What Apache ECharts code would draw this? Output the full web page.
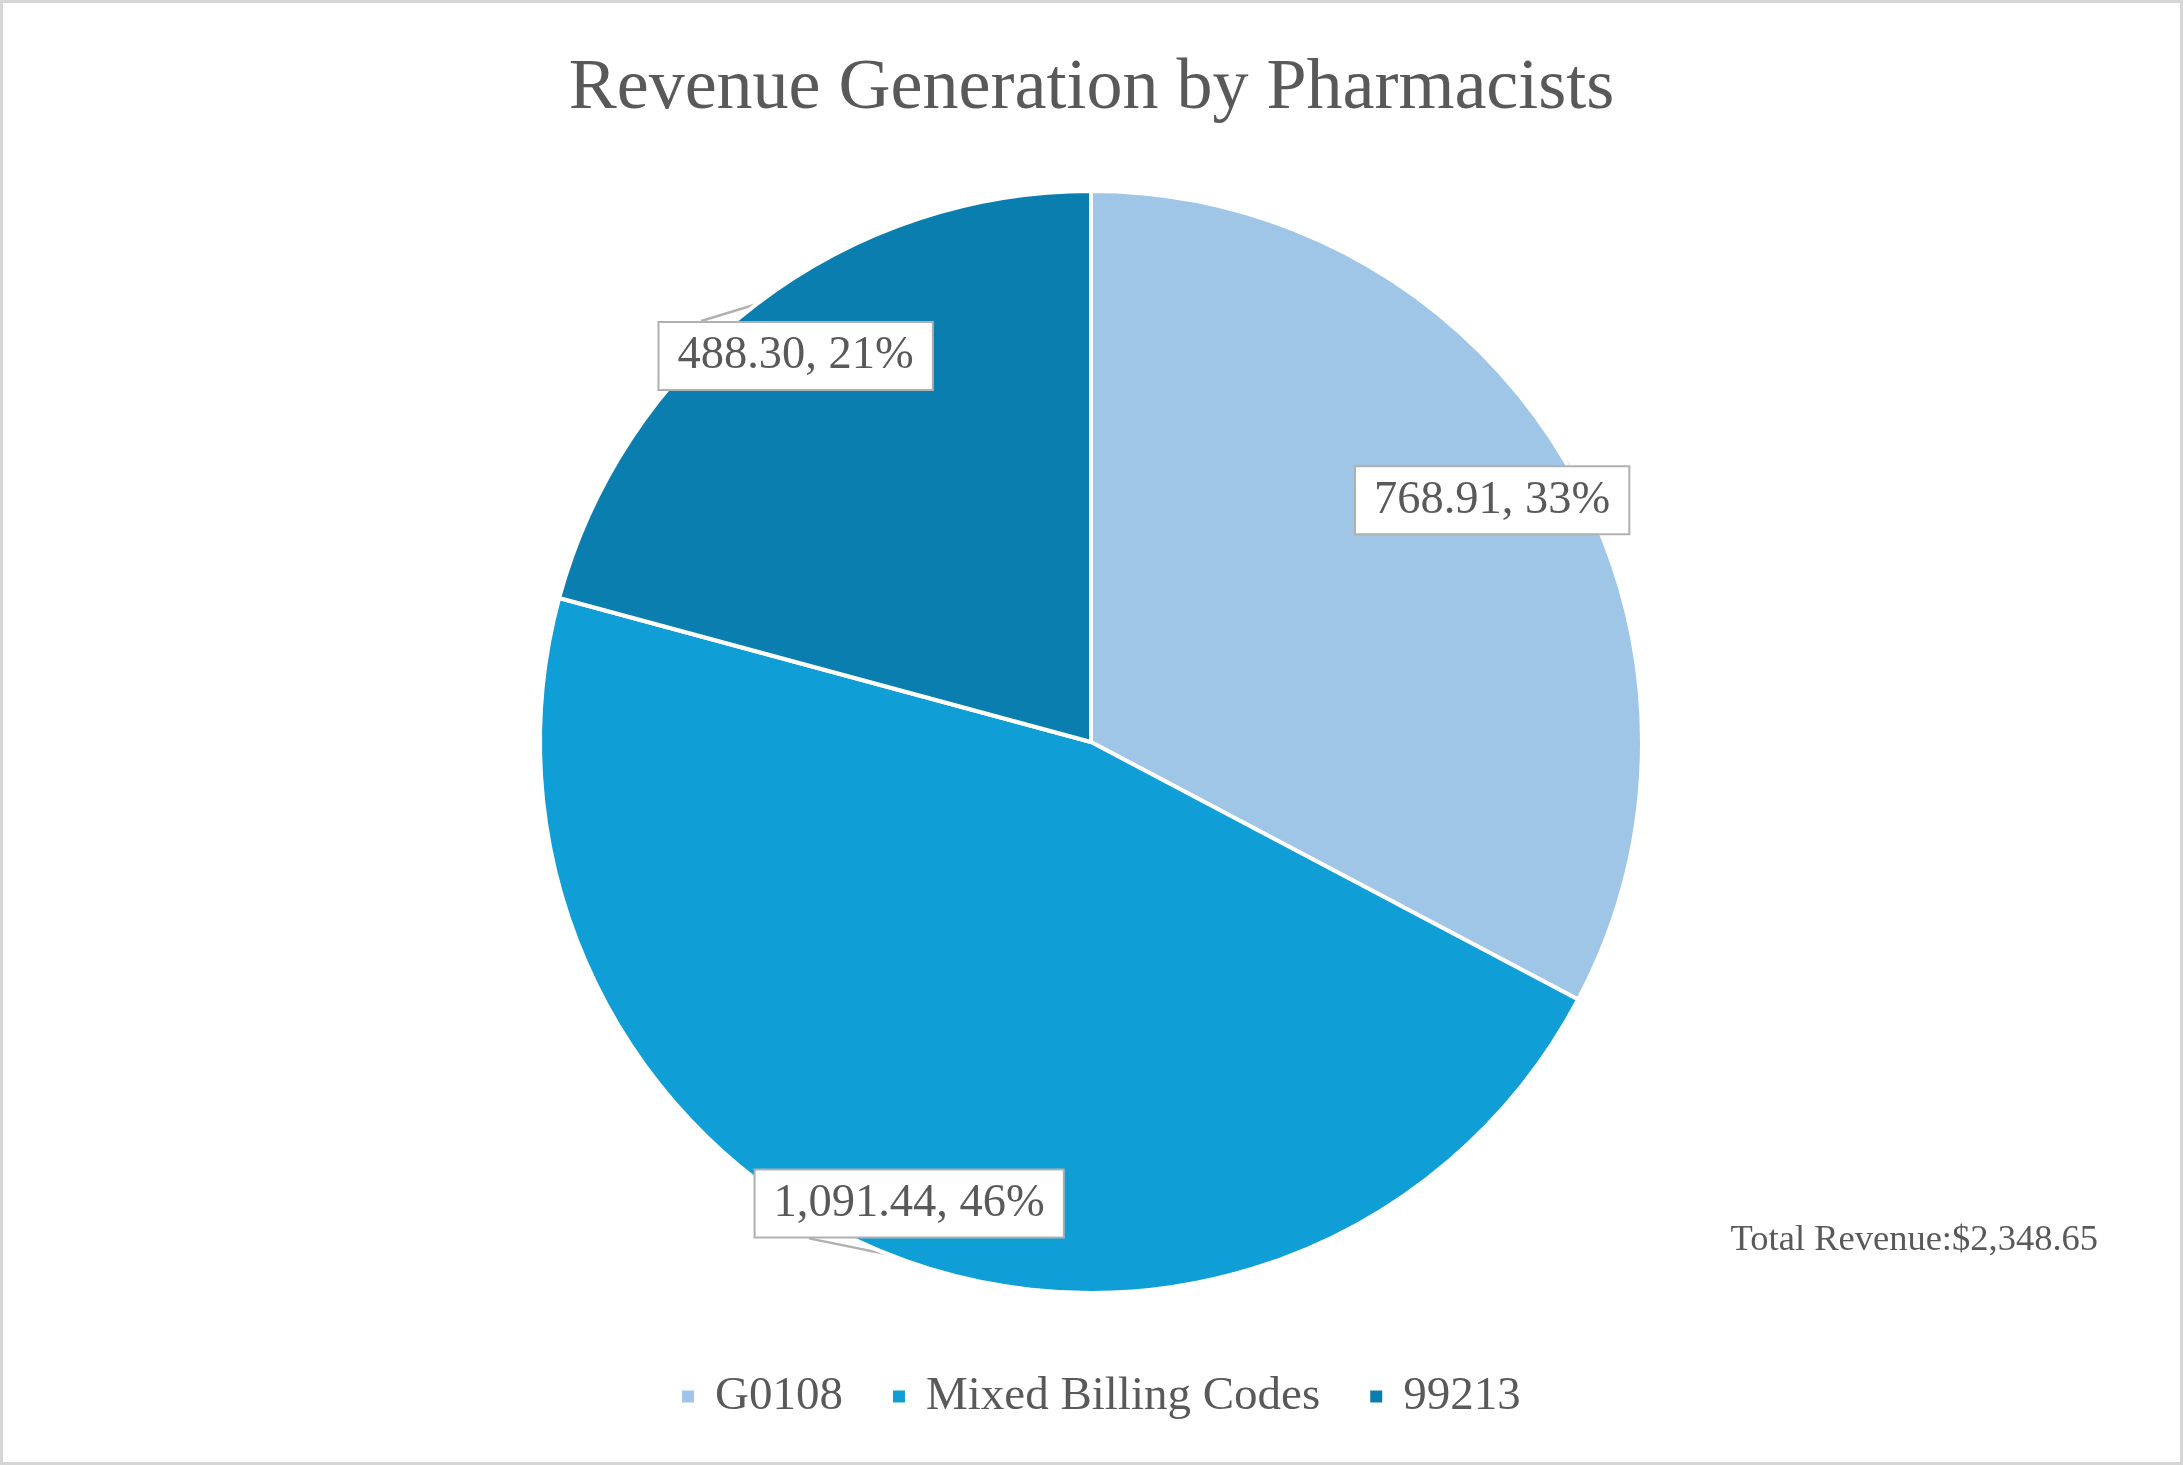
<!DOCTYPE html>
<html>
<head>
<meta charset="utf-8">
<script src="https://cdn.jsdelivr.net/npm/echarts@6/dist/echarts.min.js"></script>
<style>
  html, body { margin: 0; padding: 0; background: #ffffff; }
  #chart { width: 2183px; height: 1465px; box-sizing: border-box; border: 3px solid #d6d6d6; }
</style>
</head>
<body>
<div id="chart"></div>
<script>
// Revenue by billing code (USD)
const categories = ['G0108', 'Mixed Billing Codes', '99213'];
const revenue = [768.91, 1091.44, 488.30];
const sliceColors = ['#9fc5e7', '#0f9ed6', '#0a7eaf'];

const titleText = 'Revenue Generation by Pharmacists';
const total = revenue.reduce((a, b) => a + b, 0);
const fmtMoney = v => v.toLocaleString('en-US', { minimumFractionDigits: 2, maximumFractionDigits: 2 });

const PIE_CENTER = [1088, 739];
const PIE_RADIUS = 551;
// How far out along each slice's mid-angle the callout box sits (fraction of radius)
const labelRadiusFraction = [0.85, 0.90, 0.882];
const textColor = '#595959';
const calloutBorder = '#b0b0b0';
const serif = '"Liberation Serif", "DejaVu Serif", serif';

const chart = echarts.init(document.getElementById('chart'), null, { renderer: 'canvas' });

// Wedge-shaped callout pointer: two points on the box edge facing the slice rim, plus the tip on the rim
function calloutPoints(tip, cx, cy, w, h) {
  const left = cx - w / 2, right = cx + w / 2, top = cy - h / 2, bottom = cy + h / 2;
  const clampX = x => Math.max(left + 4, Math.min(right - 4, x));
  const clampY = y => Math.max(top + 4, Math.min(bottom - 4, y));
  if (tip[1] < top) {
    return [[clampX(tip[0] - 55), top], tip, [clampX(tip[0] + 6), top]];
  }
  if (tip[1] > bottom) {
    return [[clampX(tip[0] - 80), bottom], tip, [clampX(tip[0] - 4), bottom]];
  }
  const ex = tip[0] < left ? left : right;
  return [[ex, clampY(tip[1] - 20)], tip, [ex, clampY(tip[1] + 20)]];
}

chart.setOption({
  backgroundColor: '#ffffff',
  animation: false,
  title: [
    {
      text: titleText,
      left: 'center',
      top: 50,
      padding: 0,
      textStyle: { fontFamily: serif, fontSize: 72, fontWeight: 'normal', color: textColor }
    },
    {
      text: 'Total Revenue:$' + fmtMoney(total),
      right: 82,
      top: 1219,
      padding: 0,
      textStyle: { fontFamily: serif, fontSize: 36.5, fontWeight: 'normal', color: textColor }
    }
  ],
  legend: {
    data: categories,
    bottom: 42,
    left: 677,
    padding: 0,
    icon: 'rect',
    itemWidth: 14,
    itemHeight: 14,
    itemGap: 48,
    textStyle: { fontFamily: serif, fontSize: 47, color: textColor, padding: [0, 0, 0, 15] }
  },
  series: [
    {
      type: 'pie',
      center: PIE_CENTER,
      radius: PIE_RADIUS,
      startAngle: 90,
      clockwise: true,
      itemStyle: { borderColor: '#ffffff', borderWidth: 4 },
      label: {
        show: true,
        position: 'outside',
        formatter: p => fmtMoney(p.value) + ', ' + Math.round(p.percent) + '%',
        fontFamily: serif,
        fontSize: 46.5,
        color: textColor,
        backgroundColor: '#ffffff',
        borderColor: calloutBorder,
        borderWidth: 2,
        padding: [10, 18, 9, 18]
      },
      labelLine: {
        show: true,
        length: 10,
        length2: 6,
        lineStyle: { color: calloutBorder, width: 2.5 }
      },
      labelLayout: function (params) {
        const pts = params.labelLinePoints;
        if (!pts) return {};
        const dx = pts[0][0] - PIE_CENTER[0];
        const dy = pts[0][1] - PIE_CENTER[1];
        const len = Math.sqrt(dx * dx + dy * dy) || 1;
        const f = labelRadiusFraction[params.dataIndex];
        const cx = PIE_CENTER[0] + dx / len * PIE_RADIUS * f;
        const cy = PIE_CENTER[1] + dy / len * PIE_RADIUS * f;
        const tip = [PIE_CENTER[0] + dx / len * PIE_RADIUS, PIE_CENTER[1] + dy / len * PIE_RADIUS];
        const w = params.labelRect.width, h = params.labelRect.height;
        return {
          x: cx,
          y: cy,
          align: 'center',
          verticalAlign: 'middle',
          labelLinePoints: calloutPoints(tip, cx, cy, w, h)
        };
      },
      data: categories.map((name, i) => ({
        name: name,
        value: revenue[i],
        itemStyle: { color: sliceColors[i] }
      }))
    }
  ]
});
</script>
</body>
</html>
